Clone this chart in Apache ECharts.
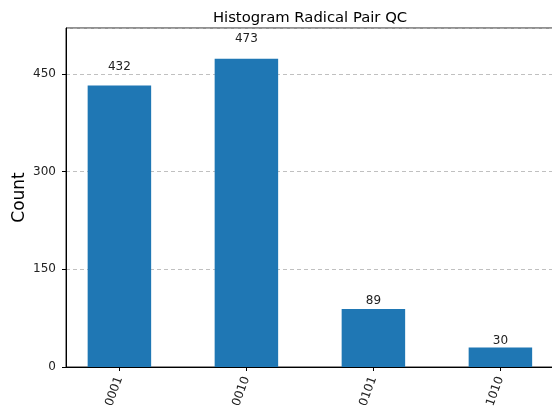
<!DOCTYPE html>
<html>
<head>
<meta charset="utf-8">
<script src="https://cdn.jsdelivr.net/npm/echarts@6/dist/echarts.min.js"></script>
<style>
  html, body { margin: 0; padding: 0; background: #fff; overflow: hidden; }
  /* the axes run slightly past the right edge of the picture, so the canvas is wider */
  #chart { width: 570px; height: 412px; }
</style>
</head>
<body>
<div id="chart"></div>
<script>
const states = ['0001', '0010', '0101', '1010']
const counts = [432, 473, 89, 30]
const yTicks = [0, 150, 300, 450]

const font = 'DejaVu Sans'
const yMax = 520.3
const plotTop = 28
const plotHeight = 339
const pxPerUnit = plotHeight / yMax

const chart = echarts.init(document.getElementById('chart'))
chart.setOption({
  animation: false,
  title: {
    text: 'Histogram Radical Pair QC',
    left: 305,
    textAlign: 'center',
    top: 6,
    textStyle: { fontFamily: font, fontSize: 14.8, fontWeight: 'normal', color: '#000' }
  },
  grid: [
    // frame of the plot (axes spines)
    { left: 66, top: plotTop, width: 489, height: plotHeight, show: true, borderColor: '#222', borderWidth: 1, containLabel: false, outerBoundsMode: 'none' },
    // band layout for the bars
    { left: 55.9, top: plotTop, width: 508, height: plotHeight, containLabel: false, outerBoundsMode: 'none' }
  ],
  xAxis: [
    {
      type: 'value', gridIndex: 0, min: 0, max: 1,
      axisLine: { show: true, lineStyle: { color: '#000', width: 1 } },
      axisTick: { show: false }, axisLabel: { show: false }, splitLine: { show: false }
    },
    {
      type: 'category', gridIndex: 1, data: states,
      axisLine: { show: false },
      axisTick: { show: true, alignWithLabel: true, length: 4, lineStyle: { color: '#000' } },
      axisLabel: { rotate: 70, margin: 10, fontFamily: font, fontSize: 12, color: '#222' }
    }
  ],
  yAxis: [
    {
      type: 'value', gridIndex: 0, min: yTicks[0], max: yMax, interval: yTicks[1] - yTicks[0],
      name: 'Count', nameLocation: 'middle', nameGap: 38, nameMoveOverlap: false,
      nameTextStyle: { fontFamily: font, fontSize: 17, color: '#000' },
      axisLine: { show: true, lineStyle: { color: '#000', width: 1 } },
      axisTick: { show: true, length: 4, lineStyle: { color: '#000' } },
      axisLabel: {
        margin: 10, fontFamily: font, fontSize: 12, color: '#222', showMaxLabel: false,
        formatter: v => (yTicks.includes(v) ? String(v) : '')
      },
      splitLine: { show: true, lineStyle: { color: '#b0b0b0', type: [4, 3], width: 0.8 } }
    },
    { type: 'value', gridIndex: 1, min: 0, max: yMax, show: false, splitLine: { show: false } }
  ],
  series: [{
    type: 'bar',
    xAxisIndex: 1,
    yAxisIndex: 1,
    barWidth: '50%',
    itemStyle: { color: '#1f77b4' },
    data: counts.map(v => ({
      value: v,
      label: { distance: v * 0.048 * pxPerUnit - 0.5 }
    })),
    label: {
      show: true, position: 'top',
      fontFamily: font, fontSize: 12, color: '#222'
    }
  }]
})
</script>
</body>
</html>
